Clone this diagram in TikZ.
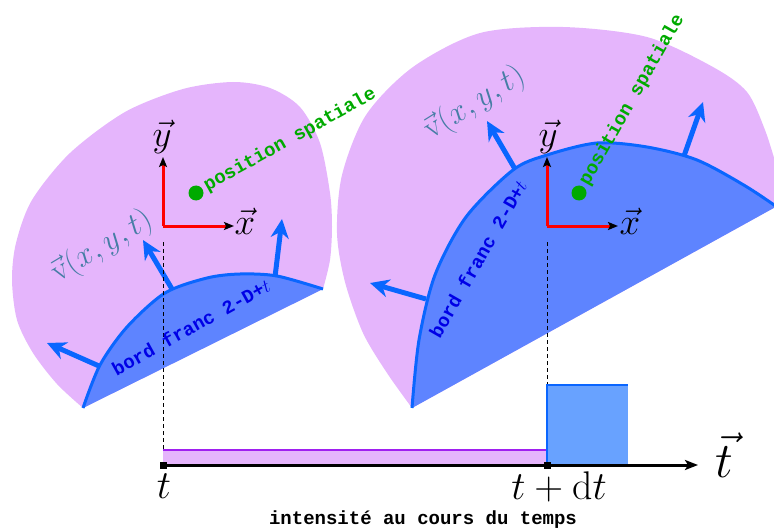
\RequirePackage{fix-cm}
\documentclass[tikz,border=0pt]{standalone}
\usepackage{fontspec}
\newfontfamily\monob{Liberation Mono}
\usetikzlibrary{arrows.meta}
\definecolor{purp}{RGB}{229,181,252}
\definecolor{bluefill}{RGB}{94,132,255}
\definecolor{edgeblue}{RGB}{10,102,255}
\definecolor{rectblue}{RGB}{104,162,255}
\definecolor{vcol}{RGB}{70,125,165}
\definecolor{gdot}{RGB}{0,170,0}
\definecolor{tblue}{RGB}{0,0,230}
\definecolor{purpline}{RGB}{160,32,240}
\tikzset{
  varrow/.style={draw=edgeblue, line width=5pt, -{Stealth[length=19pt,width=18pt,inset=6pt]}},
  axisred/.style={draw=red, line width=3pt, -{Stealth[black,length=10pt,width=8pt,inset=2pt]}},
  guide/.style={draw=black, line width=1pt, dash pattern=on 4pt off 3pt},
  edgearc/.style={draw=edgeblue, line width=3pt},
  lab/.style={inner sep=0pt, font=\fontsize{37}{40}\selectfont},
  vlab/.style={inner sep=0pt, text=vcol, font=\fontsize{32}{36}\selectfont},
  posl/.style={inner sep=0pt, text=gdot, font=\fontsize{19}{22}\selectfont\monob\bfseries},
  bordl/.style={inner sep=0pt, text=tblue, font=\fontsize{19}{22}\selectfont\monob\bfseries},
  tlab/.style={inner sep=0pt, font=\fontsize{40}{44}\selectfont},
  marker/.style={fill=black, minimum size=7pt, inner sep=0pt},
}
\begin{document}
\begin{tikzpicture}[x=1pt,y=-1pt]
\useasboundingbox (0,0) rectangle (774,532);
\begin{scope}
\clip (0,0) rectangle (774,532);
% ---- left blob
\fill[purp] plot[smooth] coordinates {(83,408) (57,384) (33,353) (17,320) (12,280) (16,243) (32,200) (70,153) (125,112) (183,89) (233,82) (270,88) (300,107) (320,143) (330,193) (332,227) (330,260) (323,289)} -- cycle;
\fill[bluefill] plot[smooth] coordinates {(83,408) (100,365) (127,327) (165,293) (207,278) (240,274) (277,276) (323,289)} -- cycle;
\draw[edgearc] plot[smooth] coordinates {(83,408) (100,365) (127,327) (165,293) (207,278) (240,274) (277,276) (323,289)};
% ---- right blob
\fill[purp] plot[smooth] coordinates {(412,408) (387,373) (363,333) (345,282) (337,233) (342,175) (366,115) (413,67) (480,33) (563,27) (647,37) (713,67) (747,92) (765,130) (778,170) (790,199)} -- cycle;
\fill[bluefill] plot[smooth] coordinates {(412,408) (419,340) (435,275) (466,217) (513,170) (547,155) (597,143) (647,147) (697,160) (747,187) (790,216)} -- (790,199) -- cycle;
\draw[edgearc] plot[smooth] coordinates {(412,408) (419,340) (435,275) (466,217) (513,170) (547,155) (597,143) (647,147) (697,160) (747,187) (790,216)};
\end{scope}
% ---- normal arrows
\coordinate (la1) at (99,366); \coordinate (la1t) at (47,343);
\coordinate (la2) at (172,289); \coordinate (la2t) at (143,240);
\coordinate (la3) at (275,277); \coordinate (la3t) at (282,219);
\coordinate (ra1) at (426,299); \coordinate (ra1t) at (370,283);
\coordinate (ra2) at (515,169); \coordinate (ra2t) at (487,121);
\coordinate (ra3) at (684,156); \coordinate (ra3t) at (703,102);
\draw[varrow] (la1) -- (la1t);
\draw[varrow] (la2) -- (la2t);
\draw[varrow] (la3) -- (la3t);
\draw[varrow] (ra1) -- (ra1t);
\draw[varrow] (ra2) -- (ra2t);
\draw[varrow] (ra3) -- (ra3t);
% ---- time axis coordinates
\coordinate (t0) at (163,465);
\coordinate (t1) at (547,465);
\coordinate (tend) at (698,465);
% ---- dashed guides
\coordinate (g0) at (163,242);
\coordinate (g1) at (547,242);
\draw[guide] (g0) -- (t0);
\draw[guide] (g1) -- (t1);
% ---- local axes
\coordinate (lo) at (163,226); \coordinate (loy) at (163,157); \coordinate (lox) at (234,226);
\coordinate (ro) at (547,226); \coordinate (roy) at (547,157); \coordinate (rox) at (618,226);
\draw[axisred] (lo) -- (loy);
\draw[axisred] (lo) -- (lox);
\draw[axisred] (ro) -- (roy);
\draw[axisred] (ro) -- (rox);
\node[lab] (ly) at (162,137) {$\vec{y}$};
\node[lab] (lx) at (245,221) {$\vec{x}$};
\node[lab] (ry) at (548,137) {$\vec{y}$};
\node[lab] (rx) at (630,221) {$\vec{x}$};
% ---- green points
\fill[gdot] (196,193) circle (7.5pt);
\fill[gdot] (579,193) circle (7.5pt);
\node[posl, rotate=29] (lpos) at (290,140) {position spatiale};
\node[posl, rotate=60.4] (rpos) at (632,100) {position spatiale};
% ---- velocity labels
\node[vlab, rotate=31] (lv) at (102,247) {$\vec{\mathrm{v}}(x,y,t)$};
\node[vlab, rotate=32] (rv) at (475,103) {$\vec{\mathrm{v}}(x,y,t)$};
% ---- edge labels
\node[bordl, rotate=29] (lb) at (191,327) {bord franc 2-D+$t$};
\node[bordl, rotate=60.3] (rb) at (478,259) {bord franc 2-D+$t$};
% ---- intensity bars
\fill[purp] (163,450) rectangle (547,465);
\draw[purpline, line width=1.5pt] (163,450) -- (547,450);
\fill[rectblue] (547,385) rectangle (628,465);
\draw[edgeblue, line width=1.5pt] (547,465) -- (547,385) -- (628,385);
% ---- time axis
\draw[black, line width=3pt, -{Stealth[length=13pt,width=10pt,inset=3pt]}] (t0) -- (tend);
\node[marker] (m0) at (t0) {};
\node[marker] (m1) at (t1) {};
\node[tlab] (lt) at (164,486) {$t$};
\node[tlab] (ltdt) at (559,487) {$t+\mathrm{d}t$};
\node[inner sep=0pt, font=\fontsize{50}{54}\selectfont] (vt) at (724,455) {$\vec{t}$};
\node[inner sep=0pt, font=\fontsize{19}{22}\selectfont\monob\bfseries] (cap) at (423,520) {intensité au cours du temps};
\end{tikzpicture}
\end{document}
